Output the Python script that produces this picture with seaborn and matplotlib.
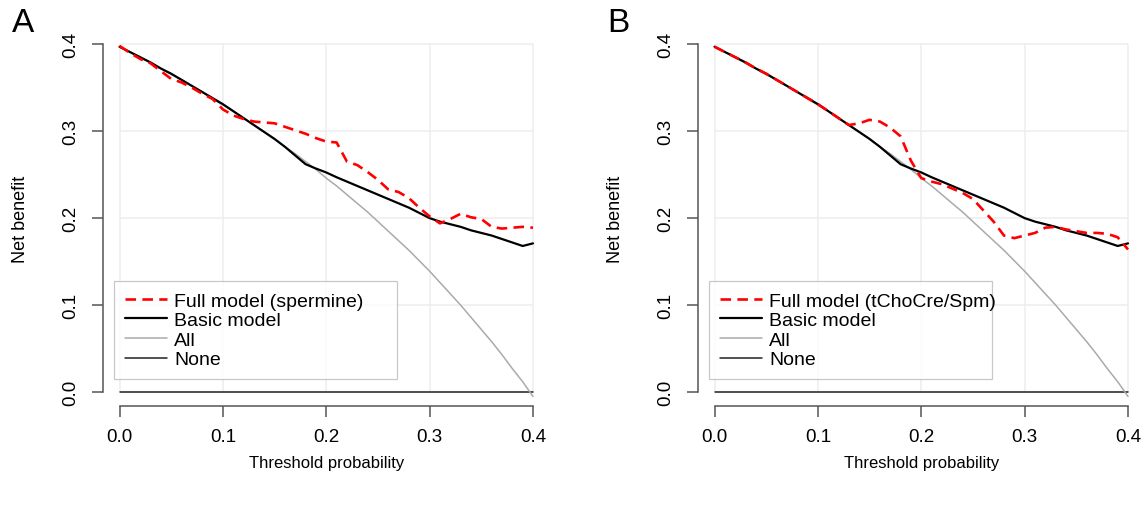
import numpy as np
import pandas as pd
import matplotlib
matplotlib.use("Agg")
import matplotlib.pyplot as plt
import seaborn as sns

# threshold grid and net benefit values
threshold = [0.00, 0.01, 0.02, 0.03, 0.04, 0.05, 0.06, 0.07, 0.08, 0.09,
             0.10, 0.11, 0.12, 0.13, 0.14, 0.15, 0.16, 0.17, 0.18, 0.19,
             0.20, 0.21, 0.22, 0.23, 0.24, 0.25, 0.26, 0.27, 0.28, 0.29,
             0.30, 0.31, 0.32, 0.33, 0.34, 0.35, 0.36, 0.37, 0.38, 0.39, 0.40]

nb_all = [0.397, 0.391, 0.385, 0.378, 0.372, 0.365, 0.359, 0.352, 0.345, 0.337,
          0.330, 0.323, 0.315, 0.307, 0.299, 0.291, 0.282, 0.274, 0.265, 0.256,
          0.246, 0.237, 0.227, 0.217, 0.207, 0.196, 0.185, 0.174, 0.163, 0.151,
          0.139, 0.126, 0.113, 0.100, 0.086, 0.072, 0.058, 0.043, 0.027, 0.012, -0.005]

nb_basic = [0.397, 0.391, 0.385, 0.379, 0.372, 0.366, 0.359, 0.352, 0.345, 0.338,
            0.331, 0.323, 0.315, 0.307, 0.299, 0.291, 0.282, 0.272, 0.262, 0.257,
            0.2525, 0.247, 0.242, 0.237, 0.232, 0.227, 0.222, 0.217, 0.212, 0.206,
            0.200, 0.196, 0.193, 0.190, 0.186, 0.183, 0.180, 0.176, 0.172, 0.168, 0.171]

nb_full_a = [0.398, 0.390, 0.383, 0.378, 0.369, 0.360, 0.356, 0.350, 0.343, 0.337,
             0.325, 0.318, 0.314, 0.311, 0.310, 0.309, 0.305, 0.301, 0.297, 0.292,
             0.288, 0.287, 0.265, 0.261, 0.253, 0.244, 0.233, 0.230, 0.223, 0.212,
             0.202, 0.194, 0.199, 0.205, 0.201, 0.199, 0.190, 0.188, 0.189, 0.190, 0.189]

nb_full_b = [0.397, 0.391, 0.385, 0.379, 0.372, 0.366, 0.359, 0.352, 0.345, 0.338,
             0.331, 0.323, 0.315, 0.307, 0.309, 0.313, 0.311, 0.304, 0.294, 0.266,
             0.246, 0.242, 0.239, 0.234, 0.229, 0.222, 0.209, 0.196, 0.180, 0.177,
             0.180, 0.183, 0.189, 0.190, 0.187, 0.185, 0.183, 0.183, 0.182, 0.178, 0.164]

none_x = [0.0, 0.4]
none_y = [0.0, 0.0]

ticks = [0.0, 0.1, 0.2, 0.3, 0.4]
tick_labels = ["0.0", "0.1", "0.2", "0.3", "0.4"]

panels = [("A", nb_full_a, "Full model (spermine)"),
          ("B", nb_full_b, "Full model (tChoCre/Spm)")]

sns.set_style("white")
plt.rcParams['font.family'] = ['Liberation Sans', 'DejaVu Sans']
plt.rcParams['text.color'] = 'black'
plt.rcParams['axes.labelcolor'] = 'black'

fig = plt.figure(figsize=(11.48, 5.06), dpi=100)
axes_pos = [[0.0897, 0.1964, 0.389, 0.7419],
            [0.6080, 0.1964, 0.389, 0.7419]]

for (letter, full, full_label), pos in zip(panels, axes_pos):
    ax = fig.add_axes(pos)
    df = pd.DataFrame({'threshold': threshold, 'full': full,
                       'basic': nb_basic, 'all': nb_all})

    # light grid only inside the tick range
    ax.hlines(ticks, ticks[0], ticks[-1], color='#ededed', lw=1.1, zorder=0)
    ax.vlines(ticks, ticks[0], ticks[-1], color='#ededed', lw=1.1, zorder=0)

    sns.lineplot(data=df, x='threshold', y='full', ax=ax, color='#ff0000',
                 lw=1.9, linestyle=(0, (4, 2.4)), label=full_label, zorder=5)
    sns.lineplot(data=df, x='threshold', y='basic', ax=ax, color='black',
                 lw=1.6, label='Basic model', zorder=4)
    sns.lineplot(data=df, x='threshold', y='all', ax=ax, color='#aaaaaa',
                 lw=1.1, label='All', zorder=3)
    sns.lineplot(x=none_x, y=none_y, ax=ax, color='#222222',
                 lw=1.1, label='None', zorder=2)

    ax.set_xlim(-0.016, 0.416)
    ax.set_ylim(-0.0155, 0.416)
    ax.set_xticks(ticks)
    ax.set_xticklabels(tick_labels, fontsize=13.5)
    ax.set_yticks(ticks)
    ax.set_yticklabels(tick_labels, fontsize=13.5, rotation=90, va='center')
    ax.tick_params(axis='both', direction='out', length=8, width=1.1,
                   color='#555555', labelcolor='black', left=True, bottom=True)
    ax.tick_params(axis='x', pad=8)
    ax.tick_params(axis='y', pad=9)

    for s in ['top', 'right']:
        ax.spines[s].set_visible(False)
    for s in ['left', 'bottom']:
        ax.spines[s].set_color('#555555')
        ax.spines[s].set_linewidth(1.1)
        ax.spines[s].set_bounds(0.0, 0.4)

    ax.set_xlabel('Threshold probability', fontsize=12, labelpad=7)
    ax.set_ylabel('Net benefit', fontsize=13, labelpad=24)

    leg = ax.legend(loc='lower left', bbox_to_anchor=(0.0246, 0.0709, 0.634, 0.26),
                    mode='expand', fontsize=14, frameon=True, fancybox=False,
                    borderaxespad=0, handlelength=2.2, handletextpad=0.36,
                    labelspacing=0.1, borderpad=0.55)
    leg.get_frame().set_edgecolor('#bbbbbb')
    leg.get_frame().set_linewidth(0.9)

    fig.text(pos[0] - 0.079, 0.985, letter, fontsize=24, va='top', ha='left')

fig.savefig('out.png', dpi=100)
